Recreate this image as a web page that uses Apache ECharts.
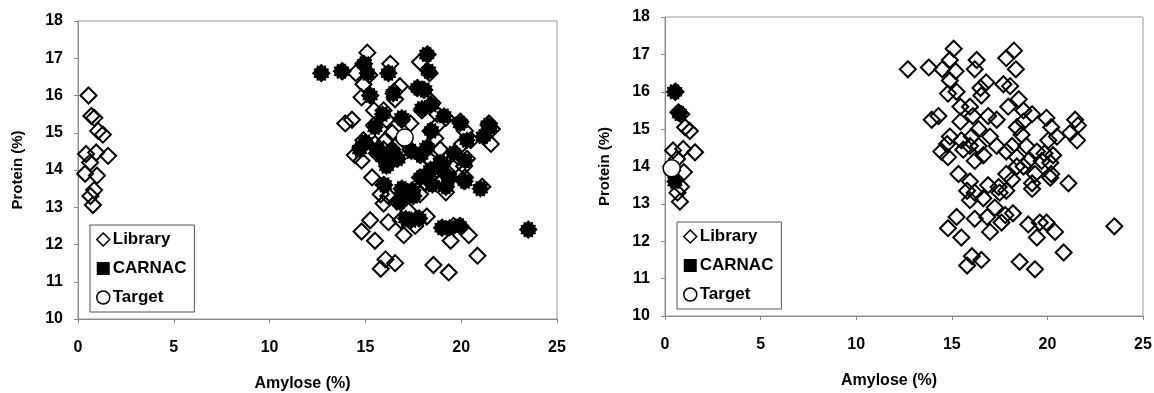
<!DOCTYPE html>
<html lang="en">
<head>
    <meta charset="UTF-8">
    <title>Amylose vs Protein</title>
    <script src="https://cdn.jsdelivr.net/npm/echarts@6/dist/echarts.min.js"></script>
    <style>
        html, body { margin: 0; padding: 0; background: #ffffff; }
        #chart { width: 1154px; height: 393px; }
    </style>
</head>
<body>
    <div id="chart"></div>
    <script>
        // axis ticks
        var xTicks = [0, 5, 10, 15, 20, 25];
        var yTicks = [10, 11, 12, 13, 14, 15, 16, 17, 18];

        // library lines [amylose, protein] - same in both panels
        var library = [
            [0.55, 16.0], [0.7, 15.45], [0.85, 15.4], [1.05, 15.05], [1.3, 14.95], [0.42, 14.43],
            [0.95, 14.47], [1.57, 14.38], [0.63, 14.2], [0.37, 13.9], [0.99, 13.85], [0.84, 13.46],
            [0.65, 13.3], [0.78, 13.06],
            [15.1, 17.15], [12.7, 16.6], [13.8, 16.65], [14.5, 16.6], [14.9, 16.85], [15.2, 16.55],
            [14.9, 16.3], [16.3, 16.85], [16.2, 16.6], [18.25, 17.1], [17.85, 16.9], [18.35, 16.6],
            [14.8, 15.95], [15.25, 16.0], [16.8, 16.25], [16.5, 16.1], [16.55, 15.9], [17.7, 16.2],
            [18.05, 16.15], [15.45, 15.6], [15.95, 15.6], [17.95, 15.6], [18.5, 15.8], [18.75, 15.5],
            [19.2, 15.4], [13.95, 15.25], [14.3, 15.35], [15.45, 15.2], [16.1, 15.35], [16.9, 15.35],
            [17.35, 15.25], [16.4, 15.0], [17.0, 14.8], [18.4, 15.05], [18.75, 15.2], [18.65, 14.85],
            [19.95, 15.3], [20.2, 15.05], [21.45, 15.25], [21.6, 15.1], [21.2, 14.9], [21.55, 14.7],
            [20.5, 14.8], [20.05, 14.7], [14.9, 14.8], [14.75, 14.6], [14.45, 14.4], [14.8, 14.25],
            [15.5, 14.7], [16.05, 14.8], [15.6, 14.45], [15.95, 14.55], [16.4, 14.55], [16.65, 14.3],
            [16.2, 14.15], [17.35, 14.55], [18.15, 14.55], [17.85, 14.4], [18.4, 14.25], [18.9, 14.55],
            [19.45, 14.4], [19.85, 14.35], [20.3, 14.3], [19.7, 14.15], [20.15, 14.1], [19.0, 14.15],
            [18.75, 14.0], [20.2, 13.8], [21.1, 13.55], [15.35, 13.8], [15.95, 13.6], [16.9, 13.5],
            [17.45, 13.45], [17.85, 13.8], [18.4, 14.0], [19.2, 13.55], [19.35, 13.8], [20.15, 13.7],
            [15.8, 13.35], [16.2, 13.3], [18.15, 13.65], [17.85, 13.35],
            [15.95, 13.1], [16.65, 13.15], [17.5, 13.3], [19.2, 13.4],
            [15.25, 12.65], [14.8, 12.35], [15.5, 12.1], [16.2, 12.6], [17.0, 12.25], [16.85, 12.65],
            [17.25, 12.9], [17.6, 12.5], [18.2, 12.75], [17.8, 12.7], [19.0, 12.45], [19.6, 12.5],
            [19.95, 12.5], [20.4, 12.25], [19.45, 12.1], [20.85, 11.7], [23.5, 12.4],
            [16.05, 11.6], [15.8, 11.35], [16.55, 11.5], [18.55, 11.45], [19.35, 11.25]
        ];

        // CARNAC selection, left panel (similar to target)
        var carnacLeft = [
            [12.7, 16.6], [13.75, 16.65], [14.95, 16.85], [15.1, 16.6], [16.2, 16.6], [18.2, 17.1],
            [18.3, 16.65], [15.25, 16.0], [16.45, 16.05], [17.75, 16.2], [18.1, 16.15], [17.95, 15.65],
            [18.45, 15.75], [15.9, 15.5], [16.9, 15.4], [19.1, 15.45], [15.5, 15.15], [18.45, 15.05],
            [19.95, 15.25], [21.5, 15.15], [21.4, 15.2], [20.3, 14.8], [21.15, 14.9], [15.0, 14.75],
            [14.7, 14.55], [15.6, 14.55], [15.9, 14.35], [16.4, 14.5], [16.7, 14.3], [17.4, 14.5],
            [18.2, 14.6], [17.9, 14.4], [19.6, 14.45], [20.2, 14.25], [18.9, 14.2], [19.0, 14.0],
            [20.2, 13.7], [18.4, 14.0], [17.9, 13.8], [18.5, 13.6], [19.2, 13.55], [19.4, 13.8],
            [21.0, 13.5], [16.9, 13.5], [17.4, 13.45], [16.0, 13.6], [16.1, 14.1], [17.5, 13.3],
            [16.8, 13.15], [17.1, 12.7], [17.4, 12.65], [17.8, 12.7], [19.0, 12.45], [19.4, 12.45],
            [19.9, 12.5], [23.5, 12.4]
        ];
        // CARNAC selection, right panel
        var carnacRight = [[0.5, 16.0], [0.75, 15.42], [0.52, 13.6]];

        var targetLeft = [[17.05, 14.87]];
        var targetRight = [[0.35, 13.95]];

        // 12 point star used for the CARNAC marks
        function starPath(n, inner) {
            var d = '';
            for (var i = 0; i < 2 * n; i++) {
                var a = i * Math.PI / n - Math.PI / 2;
                var r = i % 2 ? inner : 1;
                d += (i ? 'L' : 'M') + (50 + 50 * r * Math.cos(a)).toFixed(2) + ' ' + (50 + 50 * r * Math.sin(a)).toFixed(2);
            }
            return 'path://' + d + 'Z';
        }
        var star = starPath(12, 0.78);

        var font = 'Arial, "Liberation Sans", sans-serif';

        function xAxisOf(grid) {
            return {
                gridIndex: grid,
                type: 'value',
                min: xTicks[0],
                max: xTicks[xTicks.length - 1],
                interval: 5,
                name: 'Amylose (%)',
                nameLocation: 'middle',
                nameGap: 57,
                nameTextStyle: { color: '#000', fontSize: 16, fontWeight: 'bold', fontFamily: font, padding: [0, 30, 0, 0] },
                axisLine: { lineStyle: { color: '#8a8a8a', width: 1 } },
                axisTick: { show: true, length: 4, lineStyle: { color: '#8a8a8a' } },
                axisLabel: { color: '#000', fontSize: 16, fontWeight: 'bold', fontFamily: font, margin: 21 },
                splitLine: { show: false }
            };
        }
        function yAxisOf(grid) {
            return {
                gridIndex: grid,
                type: 'value',
                min: yTicks[0],
                max: yTicks[yTicks.length - 1],
                interval: 1,
                name: 'Protein (%)',
                nameLocation: 'middle',
                nameGap: 53,
                nameTextStyle: { color: '#000', fontSize: 15, fontWeight: 'bold', fontFamily: font },
                axisLine: { lineStyle: { color: '#8a8a8a', width: 1 } },
                axisTick: { show: true, length: 4, lineStyle: { color: '#8a8a8a' } },
                axisLabel: { color: '#000', fontSize: 16, fontWeight: 'bold', fontFamily: font, margin: 15 },
                splitLine: { show: false }
            };
        }

        function librarySeries(idx) {
            return {
                name: 'Library', type: 'scatter', xAxisIndex: idx, yAxisIndex: idx,
                data: library, symbol: 'diamond', symbolSize: [16, 16], z: 2,
                itemStyle: { color: 'rgba(255,255,255,0)', borderColor: '#000', borderWidth: 2, opacity: 1 }
            };
        }
        function carnacSeries(idx, data) {
            return {
                name: 'CARNAC', type: 'scatter', xAxisIndex: idx, yAxisIndex: idx,
                data: data, symbol: star, symbolSize: 18, z: 3,
                itemStyle: { color: '#000', opacity: 1 }
            };
        }
        function targetSeries(idx, data) {
            return {
                name: 'Target', type: 'scatter', xAxisIndex: idx, yAxisIndex: idx,
                data: data, symbol: 'circle', symbolSize: 17, z: 4,
                itemStyle: { color: '#fff', borderColor: '#000', borderWidth: 1.5, opacity: 1 }
            };
        }
        function legendAt(left, top) {
            return {
                orient: 'vertical', left: left, top: top,
                padding: [6, 8, 6, 6], itemGap: 12, itemWidth: 13, itemHeight: 13,
                borderColor: '#555', borderWidth: 1, backgroundColor: '#fff',
                textStyle: { color: '#000', fontSize: 17, fontWeight: 'bold', fontFamily: font, padding: [0, 0, 0, -2] },
                data: [
                    { name: 'Library', icon: 'diamond', itemStyle: { color: '#fff', borderColor: '#000', borderWidth: 1.5 } },
                    { name: 'CARNAC', icon: 'rect', itemStyle: { color: '#000', borderWidth: 0 } },
                    { name: 'Target', icon: 'circle', itemStyle: { color: '#fff', borderColor: '#000', borderWidth: 1.5 } }
                ]
            };
        }

        var chart = echarts.init(document.getElementById('chart'));
        chart.setOption({
            animation: false,
            backgroundColor: '#fff',
            grid: [
                { left: 78, top: 21, width: 479, height: 298, outerBoundsMode: 'none', show: true, borderColor: '#9a9a9a', borderWidth: 1 },
                { left: 665, top: 17, width: 478, height: 299, outerBoundsMode: 'none', show: true, borderColor: '#9a9a9a', borderWidth: 1 }
            ],
            xAxis: [xAxisOf(0), xAxisOf(1)],
            yAxis: [yAxisOf(0), yAxisOf(1)],
            legend: [legendAt(90, 225), legendAt(677, 222)],
            series: [
                librarySeries(0), carnacSeries(0, carnacLeft), targetSeries(0, targetLeft),
                librarySeries(1), carnacSeries(1, carnacRight), targetSeries(1, targetRight)
            ]
        });
    </script>
</body>
</html>
